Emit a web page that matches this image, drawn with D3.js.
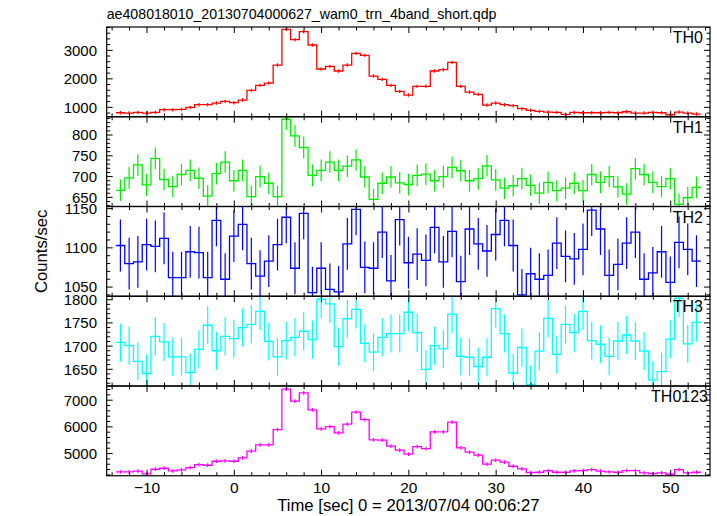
<!DOCTYPE html>
<html><head><meta charset="utf-8">
<script src="https://cdn.jsdelivr.net/npm/d3@7/dist/d3.min.js"></script>
<style>
body{margin:0;background:#fff}
svg text{font-family:"Liberation Sans",Arial,Helvetica,sans-serif;fill:#000}
</style>
</head><body>
<svg id="chart" width="717" height="516"></svg>
<script>
// ---- data ----
const titleText = "ae408018010_20130704000627_wam0_trn_4band_short.qdp";
const xLabelText = "Time [sec] 0 = 2013/07/04 00:06:27";
const yLabelText = "Counts/sec";
const binStart = -13.55;   // left edge of first 1-s bin
const binWidth = 1;
const seriesNames = ["TH0", "TH1", "TH2", "TH3", "TH0123"];
const seriesColors = ["#ff0000", "#00ee00", "#0000ff", "#00ffff", "#ff00ff"];
const seriesErrors = [60, 26, 33, 41, 70];

const TH0 = [811,800,823,800,823,917,917,928,998,1092,1092,1150,1209,1162,1255,1595,1770,1852,2484,3736,3373,3654,3186,2344,2438,2274,2484,2893,2823,2098,1981,1770,1560,1431,1735,1735,2274,2321,2578,1735,1536,1454,1080,1150,1092,1057,952,893,858,835,823,753,823,811,811,811,823,811,846,800,800,823,811,741,835,800,765];
const TH1 = [667,697,728,680,744,693,676,705,715,696,653,707,735,690,715,652,700,684,652,838,798,770,703,715,735,715,725,740,699,645,684,699,685,681,703,706,690,700,722,714,690,695,726,692,672,678,695,679,660,686,666,672,684,666,705,686,700,675,658,719,705,686,676,695,633,649,674];
const TH2 = [1103,1080,1082,1104,1102,1112,1062,1062,1095,1094,1062,1135,1060,1115,1130,1080,1064,1083,1104,1139,1074,1144,1043,1074,1047,1044,1105,1149,1075,1074,1120,1058,1136,1081,1092,1084,1126,1082,1121,1057,1124,1105,1096,1117,1135,1103,1040,1067,1060,1065,1106,1089,1086,1098,1148,1124,1065,1079,1106,1120,1060,1068,1095,1056,1107,1098,1083];
const TH3 = [1708,1701,1667,1641,1721,1709,1677,1677,1643,1693,1745,1690,1721,1716,1740,1747,1775,1710,1677,1712,1719,1732,1714,1801,1791,1699,1759,1779,1706,1687,1719,1727,1727,1773,1729,1650,1701,1694,1769,1678,1676,1656,1676,1781,1727,1642,1697,1617,1689,1760,1682,1747,1729,1775,1712,1704,1678,1711,1724,1711,1689,1627,1645,1715,1803,1705,1751];
const TH0123 = [4312,4312,4338,4238,4412,4450,4350,4388,4475,4588,4562,4712,4725,4712,4838,5088,5325,5325,5900,7412,6962,7275,6638,5925,6012,5775,6100,6550,6275,5512,5500,5275,5125,4975,5262,5188,5812,5812,6175,5212,5050,4938,4600,4750,4675,4525,4425,4288,4300,4362,4300,4300,4350,4362,4400,4338,4312,4300,4362,4362,4275,4250,4275,4225,4400,4275,4300];

const xDomain = [-14.62, 54.5];
const xMajorTicks = [-10, 0, 10, 20, 30, 40, 50];
const yDomains = [[670, 3818], [628, 844], [1038.3, 1152.7], [1614, 1807.5], [4168, 7532]];
const yMajorTicks = [[1000, 2000, 3000], [650, 700, 750, 800], [1050, 1100, 1150], [1650, 1700, 1750, 1800], [5000, 6000, 7000]];
const yMinorSteps = [200, 10, 10, 10, 200];

// ---- layout ----
const plotLeft = 106.7, plotRight = 710, plotTop = 27, panelH = 89.75;
const svg = d3.select("#chart");
const seriesData = [TH0, TH1, TH2, TH3, TH0123];

const x = d3.scaleLinear().domain(xDomain).range([plotLeft, plotRight]);

svg.append("text").attr("x", plotLeft).attr("y", 19).attr("font-size", 14.2).text(titleText);

const defs = svg.append("defs");

seriesData.forEach((vals, i) => {
  const y0 = plotTop + i * panelH, y1 = y0 + panelH;
  const y = d3.scaleLinear().domain(yDomains[i]).range([y1, y0]);
  const g = svg.append("g");
  const clipId = "clip" + i;
  defs.append("clipPath").attr("id", clipId).append("rect")
    .attr("x", plotLeft).attr("y", y0).attr("width", plotRight - plotLeft).attr("height", panelH);

  const pts = vals.map((v, k) => [binStart + k * binWidth, v]);
  pts.push([binStart + vals.length * binWidth, vals[vals.length - 1]]);
  const line = d3.line().x(d => x(d[0])).y(d => y(d[1])).curve(d3.curveStepAfter);
  const plot = g.append("g").attr("clip-path", `url(#${clipId})`);
  plot.append("path").datum(pts).attr("d", line)
    .attr("fill", "none").attr("stroke", seriesColors[i]).attr("stroke-width", 1.3);
  const err = seriesErrors[i];
  plot.selectAll("line.err").data(vals).enter().append("line")
    .attr("class", "err")
    .attr("x1", (v, k) => x(binStart + (k + 0.5) * binWidth))
    .attr("x2", (v, k) => x(binStart + (k + 0.5) * binWidth))
    .attr("y1", v => y(v - err)).attr("y2", v => y(v + err))
    .attr("stroke", seriesColors[i]).attr("stroke-width", 1.2);

  // ticks
  const tg = g.append("g").attr("stroke", "#000").attr("stroke-width", 1);
  const xMinor = d3.range(-14, 55, 2).filter(t => t >= xDomain[0] && t <= xDomain[1]);
  xMinor.forEach(t => {
    const isMaj = t % 10 === 0;
    const len = isMaj ? 6 : 3.5;
    tg.append("line").attr("x1", x(t)).attr("x2", x(t)).attr("y1", y1).attr("y2", y1 - len);
    tg.append("line").attr("x1", x(t)).attr("x2", x(t)).attr("y1", y0).attr("y2", y0 + len);
  });
  const step = yMinorSteps[i];
  const yMinor = d3.range(Math.ceil(yDomains[i][0] / step) * step, yDomains[i][1], step);
  yMinor.forEach(v => {
    const isMaj = yMajorTicks[i].includes(v);
    const len = isMaj ? 6 : 3.5;
    tg.append("line").attr("x1", plotLeft).attr("x2", plotLeft + len).attr("y1", y(v)).attr("y2", y(v));
    tg.append("line").attr("x1", plotRight).attr("x2", plotRight - len).attr("y1", y(v)).attr("y2", y(v));
  });
  yMajorTicks[i].forEach(v => {
    g.append("text").attr("x", 97).attr("y", y(v)).attr("dy", "0.36em")
      .attr("text-anchor", "end").attr("font-size", 15).text(v);
  });

  g.append("rect").attr("x", plotLeft).attr("y", y0).attr("width", plotRight - plotLeft).attr("height", panelH)
    .attr("fill", "none").attr("stroke", "#000").attr("stroke-width", 1.2);

  const lx = i === 4 ? 708 : 703;
  g.append("text").attr("x", lx).attr("y", y0 + 16).attr("text-anchor", "end")
    .attr("font-size", 16).text(seriesNames[i]);

  if (i === seriesData.length - 1) {
    xMajorTicks.forEach(t => {
      g.append("text").attr("x", x(t)).attr("y", y1 + 17.5).attr("text-anchor", "middle")
        .attr("font-size", 15.5).text(t < 0 ? "\u2212" + Math.abs(t) : String(t));
    });
  }
});

svg.append("text").attr("x", (plotLeft + plotRight) / 2).attr("y", 511).attr("text-anchor", "middle")
  .attr("font-size", 16.7).text(xLabelText);
svg.append("text").attr("transform", `translate(47,${plotTop + panelH * 2.5}) rotate(-90)`)
  .attr("text-anchor", "middle").attr("font-size", 16.7).text(yLabelText);
</script>
</body></html>
